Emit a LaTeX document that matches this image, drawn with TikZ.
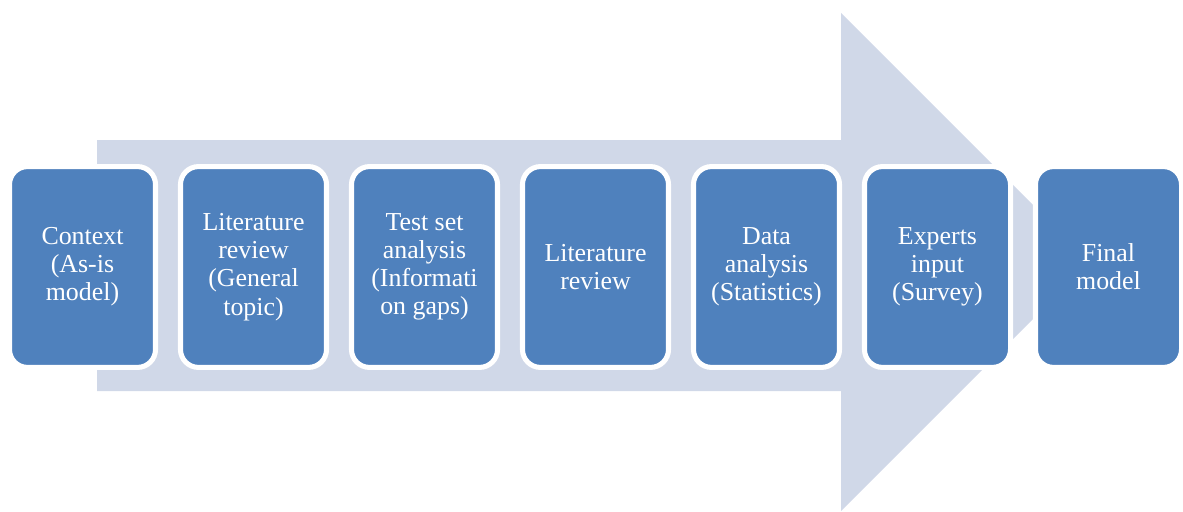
\documentclass[tikz,border=0pt]{standalone}
\usepackage{fontspec}
\setmainfont{Liberation Serif}
\usepackage{tikz}

\definecolor{stepblue}{HTML}{4F81BD}
\definecolor{arrowgrey}{HTML}{D0D8E8}

\begin{document}
\begin{tikzpicture}[x=0.025cm, y=0.025cm]
            \tikzstyle{stage}=[rectangle, rounded corners=0.45cm, fill=stepblue, draw=white,
                line width=3.6pt, minimum width=3.65cm, minimum height=5.02cm,
                align=center, text=white,
                font=\fontsize{18.4}{20}\selectfont]
            \useasboundingbox (0,0) rectangle (1183,-512);
            % big arrow behind the stages
            \fill [arrowgrey] (97,-140) -- (841,-140) -- (841,-13) -- (1090,-262)
                -- (841,-511) -- (841,-391) -- (97,-391) -- cycle;
            % stages
            \node [stage] (context) at (82.5,-267) {Context\\(As-is\\model)};
            \node [stage] (litgeneral) at (253.5,-267) {Literature\\review\\(General\\topic)};
            \node [stage] (testset) at (424.5,-267) {Test set\\analysis\\(Informati\\on gaps)};
            \node [stage] (litreview) at (595.5,-267) {Literature\\review};
            \node [stage] (data) at (766.5,-267) {Data\\analysis\\(Statistics)};
            \node [stage] (experts) at (937.5,-267) {Experts\\input\\(Survey)};
            \node [stage] (final) at (1108.5,-267) {Final\\model};
\end{tikzpicture}
\end{document}
